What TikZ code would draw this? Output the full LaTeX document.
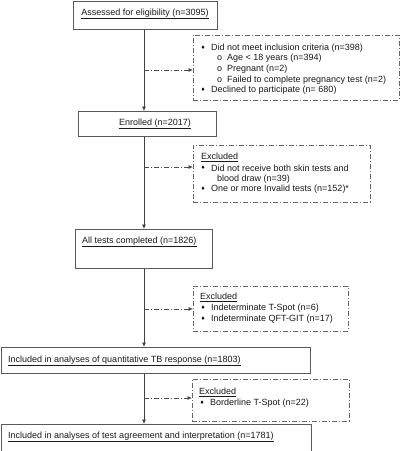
\documentclass[tikz,border=0pt]{standalone}
\usepackage{fontspec}
\setmainfont{Liberation Sans}
\newfontfamily\dejavu{DejaVu Sans}
\usetikzlibrary{arrows.meta}
\newcommand{\bul}{{\dejavu\fontsize{5}{5}\selectfont ♦}}
\tikzset{
  mainbox/.style={draw=black!65, line width=0.9pt, anchor=north west, inner sep=0pt},
  exbox/.style={draw=black!60, line width=0.7pt, dash pattern=on 5pt off 2pt on 1pt off 2pt, anchor=north west, inner sep=0pt},
  txt/.style={anchor=west, inner sep=0pt, font=\fontsize{9}{10.5}\selectfont, text=black!90},
  bl/.style={anchor=center, inner sep=0pt},
  flow/.style={draw=black!75, line width=0.8pt, -{Latex[length=4.5pt,width=4pt]}},
  side/.style={draw=black!70, line width=0.7pt, dash pattern=on 5pt off 2pt on 1pt off 2pt, -{Latex[length=4.5pt,width=4pt]}}
}
\begin{document}
\begin{tikzpicture}[x=1pt,y=-1pt]
\useasboundingbox (0,0) rectangle (400,451);
% main boxes
\node[mainbox, minimum width=144pt, minimum height=28.5pt] (b1) at (73,0.5) {};
\node[mainbox, minimum width=138pt, minimum height=25pt] (b2) at (78,111) {};
\node[mainbox, minimum width=137pt, minimum height=39pt] (b3) at (75,229) {};
\node[mainbox, minimum width=309.5pt, minimum height=26pt] (b4) at (0.5,347) {};
\node[mainbox, minimum width=310pt, minimum height=26.5pt] (b5) at (0.5,424) {};
% exclusion boxes
\node[exbox, minimum width=206pt, minimum height=65pt] (ea) at (193,35) {};
\node[exbox, minimum width=177pt, minimum height=57pt] (eb) at (193,145) {};
\node[exbox, minimum width=155pt, minimum height=45pt] (ec) at (193,286) {};
\node[exbox, minimum width=157pt, minimum height=42pt] (ed) at (192,379) {};
% main texts
\node[txt, anchor=center] (t1) at (145,14) {\underline{Assessed for eligibility (n=3095)}};
\node[txt, anchor=center] (t2) at (155,124) {\underline{Enrolled (n=2017)}};
\node[txt] (t3) at (82,242) {\underline{All tests completed (n=1826)}};
\node[txt] (t4) at (8,361) {\underline{Included in analyses of quantitative TB response (n=1803)}};
\node[txt] (t5) at (8,437) {\underline{Included in analyses of test agreement and interpretation (n=1781)}};
% box A texts
\node[bl] (ba1) at (203,48) {\bul};
\node[txt] (a1) at (211,48) {Did not meet inclusion criteria (n=398)};
\node[txt] (sa1) at (217,58) {o};
\node[txt] (a2) at (227,58) {Age < 18 years (n=394)};
\node[txt] (sa2) at (217,69) {o};
\node[txt] (a3) at (227,69) {Pregnant (n=2)};
\node[txt] (sa3) at (217,80) {o};
\node[txt] (a4) at (227,80) {Failed to complete pregnancy test (n=2)};
\node[bl] (ba2) at (203,90) {\bul};
\node[txt] (a5) at (211,90) {Declined to participate (n= 680)};
% box B texts
\node[txt] (bx) at (201,157) {\underline{Excluded}};
\node[bl] (bb1) at (203,168) {\bul};
\node[txt] (bt1) at (211,168) {Did not receive both skin tests and};
\node[txt] (bt2) at (217,179) {blood draw (n=39)};
\node[bl] (bb2) at (203,189) {\bul};
\node[txt] (bt3) at (211,189) {One or more Invalid tests (n=152)*};
% box C texts
\node[txt] (cx) at (200,297) {\underline{Excluded}};
\node[bl] (cb1) at (203,308) {\bul};
\node[txt] (ct1) at (211,308) {Indeterminate T-Spot (n=6)};
\node[bl] (cb2) at (203,319) {\bul};
\node[txt] (ct2) at (211,319) {Indeterminate QFT-GIT (n=17)};
% box D texts
\node[txt] (dx) at (199,392) {\underline{Excluded}};
\node[bl] (db1) at (202,403) {\bul};
\node[txt] (dt1) at (210,403) {Borderline T-Spot (n=22)};
% spine coordinates
\coordinate (sp) at (144,0);
\coordinate (ja) at (144,70);
\coordinate (jb) at (144,167);
\coordinate (jc) at (144,309);
\coordinate (jd) at (144,398);
% main flow
\draw[flow] (b1.south -| sp) -- (b2.north -| sp);
\draw[flow] (b2.south -| sp) -- (b3.north -| sp);
\draw[flow] (b3.south -| sp) -- (b4.north -| sp);
\draw[flow] (b4.south -| sp) -- (b5.north -| sp);
% side arrows
\draw[side] (ja) -- (ja -| ea.west);
\draw[side] (jb) -- (jb -| eb.west);
\draw[side] (jc) -- (jc -| ec.west);
\draw[side] (jd) -- (jd -| ed.west);
\end{tikzpicture}
\end{document}
